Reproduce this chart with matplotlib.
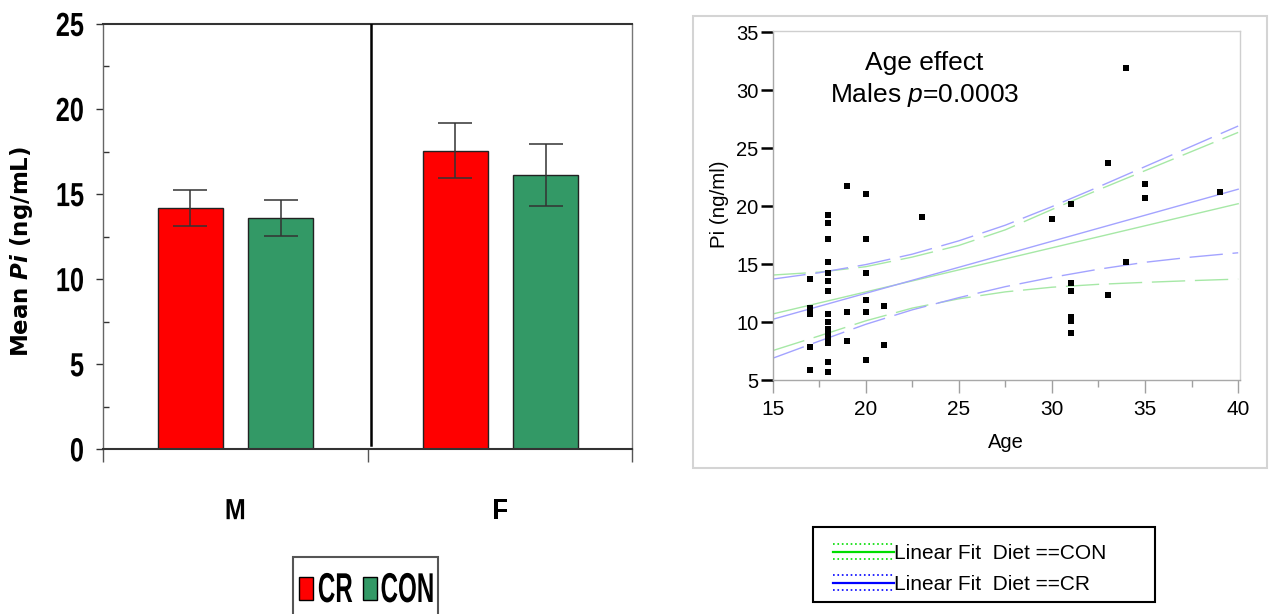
import matplotlib
matplotlib.use('Agg')
import matplotlib.pyplot as plt
from matplotlib.patheffects import AbstractPathEffect
from matplotlib.transforms import Affine2D
from matplotlib.patches import Rectangle
from matplotlib.lines import Line2D
import numpy as np

plt.rcParams['font.family'] = ['Liberation Sans', 'DejaVu Sans']
plt.rcParams['mathtext.fontset'] = 'custom'
plt.rcParams['mathtext.rm'] = 'Liberation Sans'
plt.rcParams['mathtext.it'] = 'Liberation Sans:italic'
plt.rcParams['mathtext.bf'] = 'DejaVu Sans:bold'
plt.rcParams['mathtext.bfit'] = 'DejaVu Sans:italic:bold'

# ---------------- data: left bar chart ----------------
sexes = ['M', 'F']
diets = ['CR', 'CON']
cr_mean = [14.2, 17.55]
cr_err = [1.05, 1.6]
con_mean = [13.6, 16.12]
con_err = [1.07, 1.85]

# ---------------- data: right scatter ----------------
age = [17, 17, 17, 17, 17,
       18, 18, 18, 18, 18, 18, 18, 18, 18, 18, 18, 18, 18, 18, 18,
       19, 19, 19,
       20, 20, 20, 20, 20, 20,
       21, 21,
       23,
       30,
       31, 31, 31, 31, 31, 31,
       33, 33,
       34, 34,
       35, 35,
       39]
pi_val = [13.7, 11.2, 10.7, 7.87, 5.87,
          19.2, 18.56, 17.2, 15.2, 14.2, 13.5, 12.7, 10.7, 10.03, 9.4, 9.0, 8.6, 8.22, 6.55, 5.7,
          21.7, 10.85, 8.37,
          21.03, 17.2, 14.2, 11.87, 10.85, 6.69,
          11.38, 8.05,
          19.05,
          18.9,
          20.2, 13.33, 12.7, 10.4, 10.1, 9.05,
          23.7, 12.36,
          31.9, 15.2,
          21.9, 20.7,
          21.2]

fit_x = [15, 40]
cr_fit = [10.23, 21.45]
con_fit = [10.69, 20.2]
band_x = [15, 17.5, 20, 22.5, 25, 27.5, 30, 32.5, 35, 37.5, 40]
cr_upper = [13.7, 14.25, 14.95, 15.85, 17.0, 18.35, 19.95, 21.65, 23.4, 25.15, 26.9]
cr_lower = [6.87, 8.35, 9.8, 11.05, 12.1, 13.05, 13.85, 14.55, 15.15, 15.6, 15.97]
con_upper = [14.05, 14.3, 14.77, 15.6, 16.6, 17.95, 19.7, 21.4, 23.05, 24.7, 26.35]
con_lower = [7.53, 8.8, 10.1, 11.2, 12.0, 12.6, 13.0, 13.25, 13.42, 13.57, 13.7]
fit_labels = ['Linear Fit  Diet ==CON', 'Linear Fit  Diet ==CR']


class Squeeze(AbstractPathEffect):
    """Condense glyphs horizontally (narrow bold face look)."""
    def __init__(self, sx=1.0, sy=1.0, anchor='center'):
        super().__init__()
        self.sx, self.sy, self.anchor = sx, sy, anchor

    def draw_path(self, renderer, gc, tpath, affine, rgbFace=None):
        ext = tpath.get_extents()
        cx = ext.x1 if self.anchor == 'right' else (ext.x0 + ext.x1) / 2
        cy = (ext.y0 + ext.y1) / 2
        pre = Affine2D().translate(-cx, -cy).scale(self.sx, self.sy).translate(cx, cy)
        renderer.draw_path(gc, tpath, pre + affine, rgbFace)


fig = plt.figure(figsize=(12.7, 6.14), dpi=100)

# ======================= LEFT PANEL =======================
ax1 = fig.add_axes([0.0811, 0.2683, 0.4169, 0.6927])
idx = np.arange(len(sexes)) + 0.5
w = 0.245
ax1.bar(idx - 0.17, cr_mean, w, color='#ff0000', edgecolor='#222222', linewidth=1, zorder=2)
ax1.bar(idx + 0.172, con_mean, w, color='#339966', edgecolor='#222222', linewidth=1, zorder=2)
ax1.errorbar(idx - 0.17, cr_mean, yerr=cr_err, fmt='none', ecolor='#333333',
             elinewidth=1.1, capsize=12.2, capthick=1.1, zorder=3)
ax1.errorbar(idx + 0.172, con_mean, yerr=con_err, fmt='none', ecolor='#333333',
             elinewidth=1.1, capsize=12.2, capthick=1.1, zorder=3)
ax1.axvline(1.014, ymin=0.01, ymax=1, color='black', lw=1.8, zorder=3)

ax1.set_xlim(0, 2)
ax1.set_ylim(0, 25)
ax1.set_yticks(np.arange(0, 26, 5))
ax1.set_yticks(np.arange(2.5, 25, 5), minor=True)
ax1.tick_params(axis='y', which='major', direction='out', length=5.4, width=1,
                color='#333333', pad=8, labelsize=24)
ax1.tick_params(axis='y', which='minor', direction='in', length=4.3, width=1, color='#333333')
ax1.set_xticks([0, 1, 2])
ax1.set_xticklabels([])
ax1.set_xticks(idx, minor=True)
ax1.set_xticklabels(sexes, minor=True)
ax1.tick_params(axis='x', which='major', direction='out', length=9.4, width=1, color='#555555')
ax1.tick_params(axis='x', which='minor', length=0, pad=34.5, labelsize=21)
for lbl in ax1.get_yticklabels():
    lbl.set_fontweight('bold')
    lbl.set_path_effects([Squeeze(0.76, 1.0, 'right')])
for lbl in ax1.get_xticklabels(minor=True):
    lbl.set_fontweight('bold')
    lbl.set_path_effects([Squeeze(0.86, 1.0, 'center')])

ax1.set_ylabel('Mean $\\mathbfit{Pi}$ (ng/mL)', fontsize=16.5, fontweight='bold',
               family='DejaVu Sans', va='center')
ax1.yaxis.set_label_coords(-0.153, 0.464)

ax1.spines['top'].set_color('#333333'); ax1.spines['top'].set_linewidth(1.5)
ax1.spines['bottom'].set_color('#333333'); ax1.spines['bottom'].set_linewidth(1.5)
ax1.spines['left'].set_color('#666666'); ax1.spines['left'].set_linewidth(1)
ax1.spines['right'].set_color('#777777'); ax1.spines['right'].set_linewidth(1)

# left legend (drawn in figure coordinates)
tf = fig.transFigure
fig.add_artist(Rectangle((0.2307, -0.05), 0.1142, 0.1428, transform=tf, fill=True,
                         facecolor='white', edgecolor='#555555', lw=1.5, clip_on=False))
leg_colors = ['#ff0000', '#339966']
sq_x = [0.2354, 0.2858]
txt_x = [0.2638, 0.3209]
for name, col, sx0, tx in zip(diets, leg_colors, sq_x, txt_x):
    fig.add_artist(Rectangle((sx0, 0.0228), 0.01102, 0.03746, transform=tf,
                             facecolor=col, edgecolor='black', lw=1))
    t = fig.text(tx, 0.01954, name, ha='center', va='baseline', fontsize=30, fontweight='bold')
    t.set_path_effects([Squeeze(0.58, 1.0, 'center')])

# ======================= RIGHT PANEL =======================
fig.add_artist(Rectangle((0.5457, 0.2378), 0.452, 0.7362, transform=tf, fill=False,
                         edgecolor='#d4d4d4', lw=1.5))
ax2 = fig.add_axes([0.6083, 0.3811, 0.3681, 0.5676])
blue_l = '#a3a3ff'
green_l = '#a6e8a6'
dash = (24, 7)
ax2.plot(fit_x, con_fit, color=green_l, lw=1, zorder=2)
ax2.plot(fit_x, cr_fit, color=blue_l, lw=1, zorder=2)
for ys, col in [(con_upper, green_l), (con_lower, green_l), (cr_upper, blue_l), (cr_lower, blue_l)]:
    ax2.plot(band_x, ys, color=col, lw=1, dashes=dash, zorder=2)
ax2.scatter(age, pi_val, marker='s', s=16, color='black', linewidths=0, zorder=3)

ax2.set_xlim(15, 40.1)
ax2.set_ylim(5, 35.05)
ax2.set_xticks(np.arange(15, 41, 5))
ax2.set_xticks(np.arange(17.5, 40, 5), minor=True)
ax2.set_yticks(np.arange(5, 36, 5))
ax2.tick_params(axis='x', which='major', direction='out', length=9.4, width=1,
                color='#a0a0a0', pad=5, labelsize=15)
ax2.tick_params(axis='x', which='minor', direction='out', length=5, width=1, color='#a0a0a0')
ax2.tick_params(axis='y', which='major', direction='out', length=8.6, width=1.8,
                color='black', pad=1.5, labelsize=14.5)
ax2.set_xlabel('Age', fontsize=14.5, va='top')
ax2.xaxis.set_label_coords(0.4995, -0.152)
ax2.set_ylabel('Pi (ng/ml)', fontsize=14.8, va='center')
ax2.yaxis.set_label_coords(-0.1144, 0.505)
for s in ['left', 'bottom']:
    ax2.spines[s].set_color('#a8a8a8'); ax2.spines[s].set_linewidth(1)
for s in ['top', 'right']:
    ax2.spines[s].set_color('#cfcfcf'); ax2.spines[s].set_linewidth(1)

ax2.text(0.325, 0.8895, 'Age effect', transform=ax2.transAxes, ha='center',
         va='baseline', fontsize=19)
ax2.text(0.326, 0.7986, 'Males $p$=0.0003', transform=ax2.transAxes, ha='center',
         va='baseline', fontsize=19)

# right legend (figure coordinates)
fig.add_artist(Rectangle((0.6402, 0.01954), 0.2693, 0.1221, transform=tf, fill=True,
                         facecolor='white', edgecolor='black', lw=1.5))
leg_line_cols = ['#00dd00', '#0000ff']
row_y = [0.1010, 0.0505]
off = 0.01221
for lab, col, yy in zip(fit_labels, leg_line_cols, row_y):
    fig.add_artist(Line2D([0.6559, 0.7039], [yy, yy], transform=tf, color=col, lw=1.6))
    fig.add_artist(Line2D([0.6559, 0.7039], [yy + off, yy + off], transform=tf, color=col,
                          lw=1.2, linestyle=':'))
    fig.add_artist(Line2D([0.6559, 0.7039], [yy - off, yy - off], transform=tf, color=col,
                          lw=1.2, linestyle=':'))
    fig.text(0.7039, yy, lab, ha='left', va='center_baseline', fontsize=15)

fig.savefig('out.png', dpi=100, facecolor='white')
